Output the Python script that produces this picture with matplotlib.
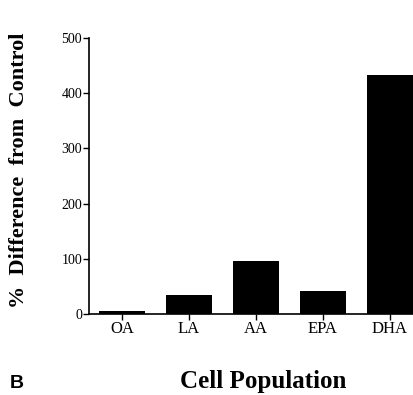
import matplotlib
matplotlib.use("Agg")
import matplotlib.pyplot as plt

categories = ["OA", "LA", "AA", "EPA", "DHA"]
values = [5, 35, 96, 42, 432]
yticks = [0, 100, 200, 300, 400, 500]

fig = plt.figure(figsize=(4.14, 3.95), dpi=100)
ax = fig.add_axes([0.215, 0.205, 0.785, 0.699])

x = range(len(categories))
ax.bar(x, values, width=0.68, color="black")

ax.set_xlim(-0.49, 4.36)
ax.set_ylim(0, 500)
ax.set_xticks(list(x))
ax.set_xticklabels(categories, fontfamily="Liberation Serif", fontsize=12)
ax.set_yticks(yticks)
ax.set_yticklabels([str(v) for v in yticks], fontfamily="Liberation Serif", fontsize=10)
ax.tick_params(axis="both", direction="out", length=4, width=1, color="black")
ax.tick_params(axis="x", pad=1)
ax.tick_params(axis="y", pad=1)

for s in ["top", "right"]:
    ax.spines[s].set_visible(False)
for s in ["left", "bottom"]:
    ax.spines[s].set_linewidth(1.2)

fig.text(0.045, 0.568, "%  Difference  from  Control", rotation=90, ha="center", va="center",
         fontfamily="Liberation Serif", fontweight="bold", fontsize=16)
fig.text(0.635, 0.035, "Cell Population", ha="center", va="center",
         fontfamily="Liberation Serif", fontweight="bold", fontsize=18)
fig.text(0.04, 0.03, "B", ha="center", va="center",
         fontfamily="Liberation Sans", fontweight="bold", fontsize=14)

fig.savefig("out.png", dpi=100)
plt.close(fig)
